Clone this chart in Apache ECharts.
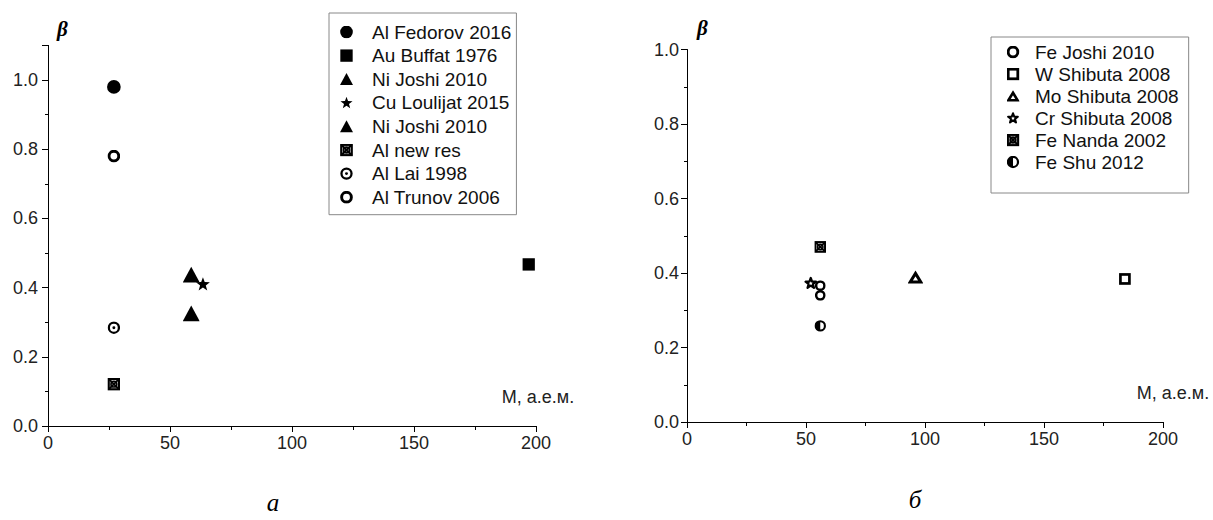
<!DOCTYPE html>
<html><head><meta charset="utf-8">
<script src="https://cdn.jsdelivr.net/npm/echarts@6/dist/echarts.min.js"></script>
<style>html,body{margin:0;padding:0;background:#fff}#c{width:1213px;height:520px}</style>
</head><body><div id="c"></div>
<script>
// ---- data (left panel "а") ----
const leftNames = ['Al Fedorov 2016','Au Buffat 1976','Ni Joshi 2010','Cu Loulijat 2015','Ni Joshi 2010 ','Al new res','Al Lai 1998','Al Trunov 2006'];
const alFedorov2016 = [[27, 0.98]];
const auBuffat1976 = [[197, 0.467]];
const niJoshi2010a = [[58.7, 0.437]];
const cuLoulijat2015 = [[63.5, 0.41]];
const niJoshi2010b = [[58.7, 0.325]];
const alNewRes = [[27, 0.121]];
const alLai1998 = [[27, 0.284]];
const alTrunov2006 = [[27, 0.78]];
// ---- data (right panel "б") ----
const rightNames = ['Fe Joshi 2010','W Shibuta 2008','Mo Shibuta 2008','Cr Shibuta 2008','Fe Nanda 2002','Fe Shu 2012'];
const feJoshi2010 = [[56, 0.366], [56, 0.34]];
const wShibuta2008 = [[184, 0.384]];
const moShibuta2008 = [[96, 0.389]];
const crShibuta2008 = [[52, 0.373]];
const feNanda2002 = [[56, 0.47]];
const feShu2012 = [[56, 0.258]];
// ---- axis ticks ----
const xTicks = [0, 50, 100, 150, 200];
const yTicks = [0.0, 0.2, 0.4, 0.6, 0.8, 1.0];

function svg(body){
  return 'image://data:image/svg+xml;charset=utf-8,' + encodeURIComponent(
    "<svg xmlns='http://www.w3.org/2000/svg' width='40' height='40' viewBox='0 0 40 40'>" + body + "</svg>");
}
const starPts = '20,1.5 24.70,14.53 38.54,14.97 27.61,23.47 31.46,36.78 20,29 8.54,36.78 12.39,23.47 1.46,14.97 15.30,14.53';
const SYM = {
  fCircle: svg("<circle cx='20' cy='20' r='19.5' fill='#000'/>"),
  fSquare: svg("<rect x='1' y='1' width='38' height='38' fill='#000'/>"),
  fTri: svg("<polygon points='20,1 40,38 0,38' fill='#000'/>"),
  fStar: svg("<polygon points='" + starPts + "' fill='#000'/>"),
  oStar: svg("<g transform='translate(20 21) scale(0.8) translate(-20 -21)'><polygon points='" + starPts + "' fill='#fff' stroke='#000' stroke-width='8' stroke-linejoin='round'/></g>"),
  oCircle: svg("<circle cx='20' cy='20' r='15' fill='#fff' stroke='#000' stroke-width='9'/>"),
  dCircle: svg("<circle cx='20' cy='20' r='15.5' fill='#fff' stroke='#000' stroke-width='7'/><circle cx='20' cy='20' r='4.5' fill='#000'/>"),
  oSquare: svg("<rect x='5' y='5' width='30' height='30' fill='#fff' stroke='#000' stroke-width='9'/>"),
  oTri: svg("<polygon points='20,10 34,33 6,33' fill='#fff' stroke='#000' stroke-width='8'/>"),
  xSquare: svg("<rect x='4' y='4' width='32' height='32' fill='#fff' stroke='#000' stroke-width='7'/><path d='M4 4L36 36M36 4L4 36' stroke='#000' stroke-width='6'/><circle cx='20' cy='20' r='9' fill='none' stroke='#000' stroke-width='5'/>"),
  hCircle: svg("<circle cx='20' cy='20' r='15.5' fill='#fff' stroke='#000' stroke-width='7'/><path d='M20 4 A16 16 0 0 0 20 36 Z' fill='#000'/>")
};

const FONT = 'Liberation Sans';
const leftData = [alFedorov2016, auBuffat1976, niJoshi2010a, cuLoulijat2015, niJoshi2010b, alNewRes, alLai1998, alTrunov2006];
const leftSym = [SYM.fCircle, SYM.fSquare, SYM.fTri, SYM.fStar, SYM.fTri, SYM.xSquare, SYM.dCircle, SYM.oCircle];
const leftSize = [14, 13, 17, 15, 17, 13, 13, 13];
const rightData = [feJoshi2010, wShibuta2008, moShibuta2008, crShibuta2008, feNanda2002, feShu2012];
const rightSym = [SYM.oCircle, SYM.oSquare, SYM.oTri, SYM.oStar, SYM.xSquare, SYM.hCircle];
const rightSize = [11, 12, 15, 14, 12, 12];

const series = [];
const iStyle = {color:'#000', opacity:1};
leftNames.forEach((n, i) => series.push({type:'scatter', name:n, xAxisIndex:0, yAxisIndex:0, data:leftData[i], symbol:leftSym[i], symbolSize:leftSize[i], itemStyle:iStyle}));
rightNames.forEach((n, i) => series.push({type:'scatter', name:n, xAxisIndex:1, yAxisIndex:2, data:rightData[i], symbol:rightSym[i], symbolSize:rightSize[i], itemStyle:iStyle}));

const lineS = {show:true, lineStyle:{color:'#000', width:1}};
const tickLbl = {fontFamily:FONT, fontSize:18, color:'#222'};
function xAx(grid, gap){
  return {type:'value', gridIndex:grid, min:xTicks[0], max:xTicks[xTicks.length-1], interval:xTicks[1]-xTicks[0],
    axisLine:lineS, axisTick:{show:true, length:6, lineStyle:{color:'#000'}},
    minorTick:{show:true, splitNumber:2, length:4, lineStyle:{color:'#000'}},
    splitLine:{show:false}, axisLabel:Object.assign({margin:8}, tickLbl),
    name:'M, а.е.м.', nameLocation:'end', nameGap:gap,
    nameTextStyle:{fontFamily:FONT, fontSize:18, color:'#222', align:'center', verticalAlign:'bottom', padding:[0,0,20,0]}};
}
const yFmt = v => { const r = Math.round(v*10); return (yTicks.some(t => Math.round(t*10) === r)) ? v.toFixed(1) : ''; };
const betaStyle = {fontFamily:'Liberation Serif', fontStyle:'italic', fontWeight:'bold', fontSize:21, color:'#000', align:'left', verticalAlign:'bottom'};

const option = {
  animation:false,
  backgroundColor:'#fff',
  grid:[
    {left:48, top:45.4, width:488, height:380.6},
    {left:687, top:49.5, width:476, height:372.5}
  ],
  xAxis:[xAx(0, 2), xAx(1, 10)],
  yAxis:[
    {type:'value', gridIndex:0, position:'left', min:0, max:1.1, interval:0.2, axisLine:lineS,
     axisTick:{show:true, length:6, lineStyle:{color:'#000'}}, splitLine:{show:false},
     axisLabel:Object.assign({margin:10, formatter:yFmt}, tickLbl),
     name:'β', nameLocation:'end', nameGap:6, nameTextStyle:Object.assign({padding:[0,0,0,9]}, betaStyle)},
    {type:'value', gridIndex:0, position:'left', min:0, max:1.1, interval:0.1, axisLine:{show:false},
     axisTick:{show:true, length:3, lineStyle:{color:'#000'}}, splitLine:{show:false}, axisLabel:{show:false}},
    {type:'value', gridIndex:1, position:'left', min:0, max:yTicks[yTicks.length-1], interval:0.2, axisLine:lineS,
     axisTick:{show:true, length:6, lineStyle:{color:'#000'}},
     minorTick:{show:true, splitNumber:2, length:3, lineStyle:{color:'#000'}}, splitLine:{show:false},
     axisLabel:Object.assign({margin:8, formatter:yFmt}, tickLbl),
     name:'β', nameLocation:'end', nameGap:11, nameTextStyle:Object.assign({padding:[0,0,0,10]}, betaStyle)}
  ],
  legend:[
    {data:leftNames, orient:'vertical', left:329, top:13, itemWidth:13, itemHeight:13, itemGap:4.6,
     padding:[9.5, 5, 8, 11], borderColor:'#888', borderWidth:1, selectedMode:false,
     itemStyle:{opacity:1}, textStyle:{fontFamily:FONT, fontSize:19, color:'#111', padding:[0,0,0,14]}},
    {data:rightNames, orient:'vertical', left:991, top:37, itemWidth:13, itemHeight:13, itemGap:3,
     padding:[5.5, 10, 21.5, 15.5], borderColor:'#888', borderWidth:1, selectedMode:false,
     itemStyle:{opacity:1}, textStyle:{fontFamily:FONT, fontSize:19, color:'#111', padding:[0,0,0,10.5]}}
  ],
  graphic:[
    {type:'text', x:273, y:502, style:{text:'а', font:'italic 25px "Liberation Serif"', fill:'#000', textAlign:'center', textVerticalAlign:'middle'}},
    {type:'text', x:915, y:499, style:{text:'б', font:'italic 25px "Liberation Serif"', fill:'#000', textAlign:'center', textVerticalAlign:'middle'}}
  ],
  series:series
};
const chart = echarts.init(document.getElementById('c'), null, {renderer:'svg'});
chart.setOption(option);
</script></body></html>
